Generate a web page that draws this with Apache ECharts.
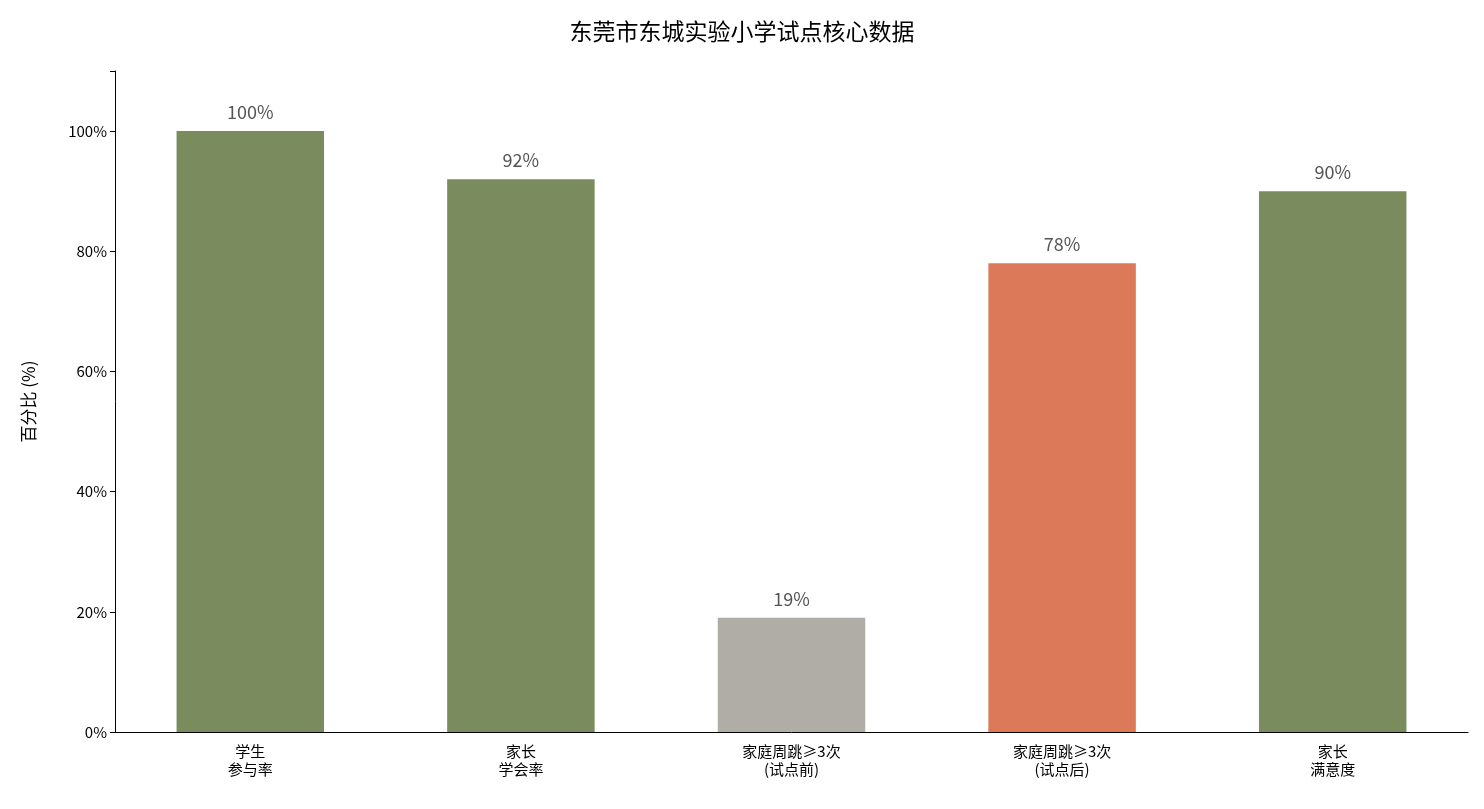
<!DOCTYPE html>
<html><head><meta charset="utf-8">
<script src="https://cdn.jsdelivr.net/npm/echarts@6/dist/echarts.min.js"></script>
<style>html,body{margin:0;background:#fff}#c{width:1484px;height:809px}</style>
</head><body><div id="c"></div>
<script>
const categories = ['学生\n参与率','家长\n学会率','家庭周跳≥3次\n(试点前)','家庭周跳≥3次\n(试点后)','家长\n满意度'];
const values = [100, 92, 19, 78, 90];
const colors = ['#7a8c5e','#7a8c5e','#b0ada6','#db7959','#7a8c5e'];
const font = '"Noto Sans CJK SC","Noto Sans",sans-serif';
const chart = echarts.init(document.getElementById('c'));
chart.setOption({
  animation:false,
  title:{text:'东莞市东城实验小学试点核心数据',left:'center',top:15,textStyle:{fontFamily:font,fontSize:23,fontWeight:'normal',color:'#000'}},
  grid:{left:115,right:16,top:71,bottom:77},
  xAxis:{type:'category',data:categories,axisLine:{lineStyle:{color:'#000'}},axisTick:{alignWithLabel:true,lineStyle:{color:'#000'}},
    axisLabel:{fontFamily:font,fontSize:15,color:'#000',lineHeight:18,margin:10}},
  yAxis:{type:'value',min:0,max:110,interval:20,splitLine:{show:false},
    axisLine:{show:true,lineStyle:{color:'#000'}},axisTick:{show:true,lineStyle:{color:'#000'}},
    axisLabel:{fontFamily:font,fontSize:15,color:'#000',formatter:v=>v>100?'':v+'%'},
    name:'百分比 (%)',nameLocation:'middle',nameGap:78,nameTextStyle:{fontFamily:font,fontSize:17,color:'#000'}},
  series:[{type:'bar',barWidth:'54.5%',
    data:values.map((v,i)=>({value:v,itemStyle:{color:colors[i]}})),
    label:{show:true,position:'top',distance:10,formatter:'{c}%',fontFamily:font,fontSize:18,color:'#555'}}]
});
</script></body></html>
